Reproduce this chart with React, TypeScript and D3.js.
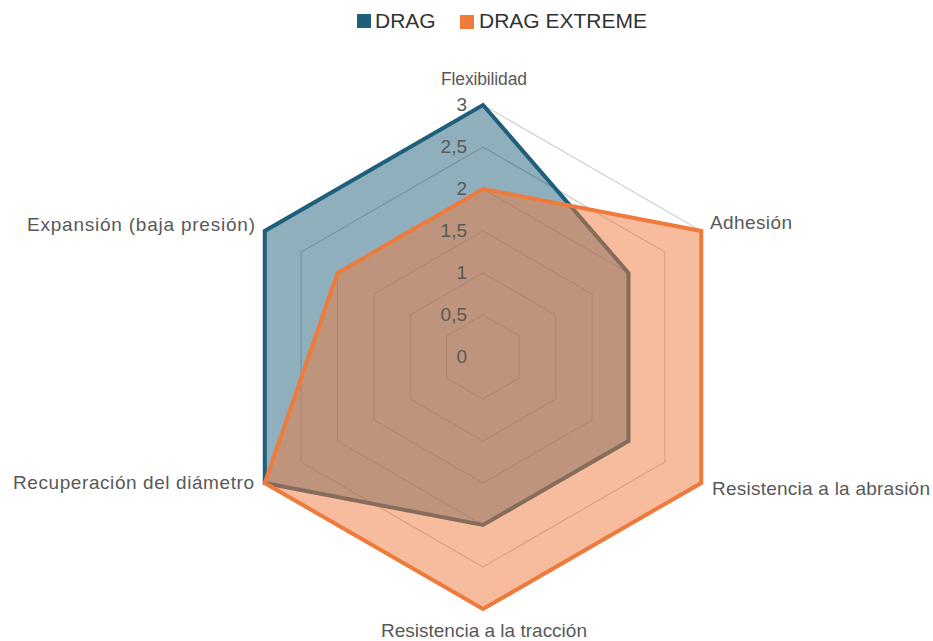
import React from "react";
import * as d3 from "d3";

const categories = [
  "Flexibilidad",
  "Adhesión",
  "Resistencia a la abrasión",
  "Resistencia a la tracción",
  "Recuperación del diámetro",
  "Expansión (baja presión)",
];
const seriesNames = ["DRAG", "DRAG EXTREME"];
const dragValues = [3, 2, 2, 2, 3, 3];
const dragExtremeValues = [2, 3, 3, 3, 3, 2];
const tickValues = [0, 0.5, 1, 1.5, 2, 2.5, 3];
const tickLabels = ["0", "0,5", "1", "1,5", "2", "2,5", "3"];

const colors = ["#1F5F7B", "#EE7A3C"];

export default function App() {
  const W = 933;
  const H = 641;
  const cx = 483;
  const cy = 357;
  const R = 252;
  const r = d3.scaleLinear().domain([0, 3]).range([0, R]);
  const angle = (i: number) => (i * 2 * Math.PI) / categories.length;
  const pt = (i: number, v: number): [number, number] => [
    cx + r(v) * Math.sin(angle(i)),
    cy - r(v) * Math.cos(angle(i)),
  ];
  const lineGen = d3
    .line<number>()
    .x((v, i) => pt(i, v)[0])
    .y((v, i) => pt(i, v)[1])
    .curve(d3.curveLinearClosed);

  const ringPath = (v: number) => lineGen(categories.map(() => v)) as string;

  const labelPos: { x: number; y: number; anchor: string; size: number; len: number }[] = [
    { x: 484, y: 85, anchor: "middle", size: 17.5, len: 86 },
    { x: 710, y: 229, anchor: "start", size: 19, len: 82 },
    { x: 712, y: 495, anchor: "start", size: 19, len: 218 },
    { x: 484, y: 637, anchor: "middle", size: 19, len: 206 },
    { x: 254, y: 489, anchor: "end", size: 19, len: 241 },
    { x: 255, y: 231, anchor: "end", size: 19, len: 228 },
  ];

  const series = [dragValues, dragExtremeValues];

  return (
    <svg
      width={W}
      height={H}
      style={{ position: "absolute", left: 0, top: 0 }}
      fontFamily="'Liberation Sans', Arial, sans-serif"
    >
      <rect width={W} height={H} fill="#fff" />
      {tickValues.slice(1).map((v) => (
        <path key={v} d={ringPath(v)} fill="none" stroke={v === 3 ? "#D0D0D0" : "#C8C8C8"} strokeWidth={1.2} />
      ))}
      {series.map((vals, si) => (
        <g key={si}>
          <path d={lineGen(vals) as string} fill={colors[si]} fillOpacity={0.5} stroke="none" />
          <path d={lineGen(vals) as string} fill="none" stroke={colors[si]} strokeWidth={4} strokeLinejoin="miter" />
        </g>
      ))}
      {tickValues.map((v, i) => (
        <text key={v} x={467} y={cy - r(v) + 6} textAnchor="end" fontSize={19} fill="#595959">
          {tickLabels[i]}
        </text>
      ))}
      {categories.map((c, i) => (
        <text
          key={c}
          x={labelPos[i].x}
          y={labelPos[i].y}
          textAnchor={labelPos[i].anchor as any}
          fontSize={labelPos[i].size}
          textLength={labelPos[i].len}
          lengthAdjust="spacing"
          fill="#595959"
        >
          {c}
        </text>
      ))}
      <g>
        <rect x={357} y={14} width={14} height={14} fill={colors[0]} />
        <text x={375} y={28} fontSize={21} fill="#333333">
          {seriesNames[0]}
        </text>
        <rect x={460} y={15} width={14} height={14} fill={colors[1]} />
        <text x={479} y={28} fontSize={21} fill="#333333">
          {seriesNames[1]}
        </text>
      </g>
    </svg>
  );
}
